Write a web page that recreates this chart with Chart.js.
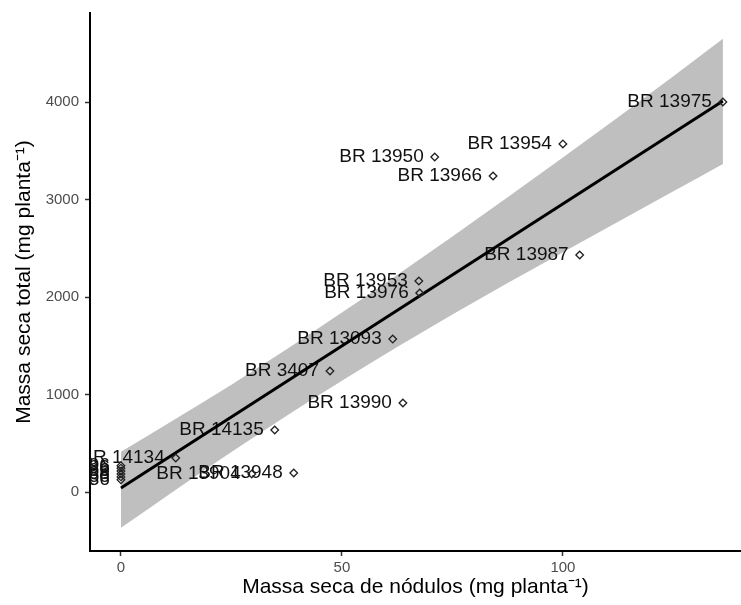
<!DOCTYPE html>
<html>
<head>
<meta charset="utf-8">
<script src="https://cdn.jsdelivr.net/npm/chart.js@4.4.0/dist/chart.umd.min.js"></script>
<style>
  html, body { margin: 0; padding: 0; background: #fff; }
  canvas { display: block; }
</style>
</head>
<body>
<canvas id="grafico" width="741" height="605"></canvas>
<script>
// estirpes e valores
const estirpes = ['BR 13975', 'BR 13954', 'BR 13950', 'BR 13966', 'BR 13987', 'BR 13953',
  'BR 13976', 'BR 13093', 'BR 3407', 'BR 13990', 'BR 14135', 'BR 14134', 'BR 13904',
  'BR 13948', 'BR 13936', 'BR 13956', 'BR 13938', 'BR 13986', 'BR 14136', 'BR 13996'];
const massaNodulos = [136.2, 100.0, 71.0, 84.2, 103.8, 67.4, 67.6, 61.5, 47.3, 63.8, 34.8, 12.4, 29.6,
  39.1, 0, 0, 0, 0, 0, 0];
const massaTotal = [4000, 3570, 3436, 3241, 2431, 2164, 2041, 1569, 1241, 913, 636, 349, 185,
  195, 125, 155, 185, 215, 245, 270];

const ticksX = [0, 50, 100];
const ticksY = [0, 1000, 2000, 3000, 4000];

// reta ajustada
const retaX = [0, 136.2];
const retaY = [41, 4010];

// intervalo de confiança da reta
const faixaX = [0, 25, 50, 75, 100, 125, 136.2];
const faixaInf = [-368, 410, 1140, 1820, 2460, 3085, 3365];
const faixaSup = [412, 1100, 1840, 2620, 3430, 4265, 4650];

const fonte = '"Liberation Sans", Arial, sans-serif';

// rótulos das estirpes, recortados na área do painel
const rotulos = {
  id: 'rotulos',
  afterDatasetDraw(chart, args) {
    if (args.index !== 2) return;
    const { ctx, chartArea, scales } = chart;
    ctx.save();
    ctx.beginPath();
    ctx.rect(chartArea.left, chartArea.top, chartArea.right - chartArea.left, chartArea.bottom - chartArea.top);
    ctx.clip();
    ctx.font = '19px ' + fonte;
    ctx.fillStyle = '#111';
    ctx.textAlign = 'right';
    ctx.textBaseline = 'middle';
    estirpes.forEach((nome, i) => {
      ctx.fillText(nome, scales.x.getPixelForValue(massaNodulos[i]) - 11, scales.y.getPixelForValue(massaTotal[i]));
    });
    ctx.restore();
  }
};

new Chart(document.getElementById('grafico'), {
  type: 'scatter',
  data: {
    datasets: [
      {
        label: 'estirpes',
        data: massaNodulos.map((x, i) => ({ x, y: massaTotal[i] })),
        pointStyle: 'rectRot',
        pointRadius: 3.8,
        borderColor: '#222',
        borderWidth: 1.3,
        backgroundColor: 'rgba(0,0,0,0)',
        order: 0
      },
      {
        type: 'line',
        label: 'reta',
        data: retaX.map((x, i) => ({ x, y: retaY[i] })),
        borderColor: '#000',
        borderWidth: 3,
        pointRadius: 0,
        fill: false,
        order: 1
      },
      {
        type: 'line',
        label: 'sup',
        data: faixaX.map((x, i) => ({ x, y: faixaSup[i] })),
        borderWidth: 0,
        pointRadius: 0,
        backgroundColor: '#bfbfbf',
        fill: '+1',
        cubicInterpolationMode: 'monotone',
        order: 2
      },
      {
        type: 'line',
        label: 'inf',
        data: faixaX.map((x, i) => ({ x, y: faixaInf[i] })),
        borderWidth: 0,
        pointRadius: 0,
        fill: false,
        cubicInterpolationMode: 'monotone',
        order: 3
      }
    ]
  },
  options: {
    responsive: false,
    animation: false,
    layout: { autoPadding: false, padding: { top: 13, right: 0, left: 0, bottom: 0 } },
    plugins: { legend: { display: false }, tooltip: { enabled: false } },
    scales: {
      x: {
        type: 'linear', min: -7, max: 140.3,
        afterBuildTicks: s => { s.ticks = ticksX.map(v => ({ value: v })); },
        afterFit: s => { s.height = 54; s.paddingLeft = 0; s.paddingRight = 0; },
        grid: { display: true, drawOnChartArea: false, drawTicks: true, tickLength: 5, tickColor: '#333', tickWidth: 1.5 },
        border: { display: true, color: '#000', width: 2 },
        ticks: { color: '#4d4d4d', font: { size: 15, family: fonte }, padding: 3, maxRotation: 0, callback: v => v },
        title: { display: true, text: 'Massa seca de nódulos (mg planta⁻¹)', color: '#000', font: { size: 21, family: fonte }, padding: { top: 0, bottom: 5 } }
      },
      y: {
        type: 'linear', min: -605, max: 4913,
        afterBuildTicks: s => { s.ticks = ticksY.map(v => ({ value: v })); },
        afterFit: s => { s.width = 90; s.paddingTop = 0; s.paddingBottom = 0; },
        grid: { display: true, drawOnChartArea: false, drawTicks: true, tickLength: 5, tickColor: '#333', tickWidth: 1.5 },
        border: { display: true, color: '#000', width: 2 },
        ticks: { color: '#4d4d4d', font: { size: 15, family: fonte }, padding: 6, callback: v => v },
        title: { display: true, text: 'Massa seca total (mg planta⁻¹)', color: '#000', font: { size: 21, family: fonte }, padding: { top: 12, bottom: 0 } }
      }
    }
  },
  plugins: [rotulos]
});
</script>
</body>
</html>
